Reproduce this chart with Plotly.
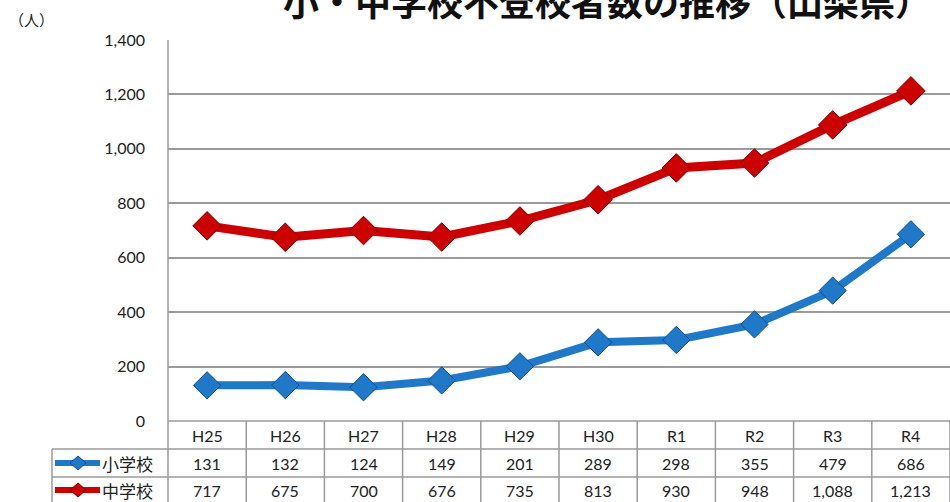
import plotly.graph_objects as go

categories = ["H25", "H26", "H27", "H28", "H29", "H30", "R1", "R2", "R3", "R4"]
elementary = [131, 132, 124, 149, 201, 289, 298, 355, 479, 686]
junior = [717, 675, 700, 676, 735, 813, 930, 948, 1088, 1213]
series_names = ["小学校", "中学校"]
y_ticks = [0, 200, 400, 600, 800, 1000, 1200, 1400]

W, H = 950, 502
BLUE = "#1f78c8"
BLUE_EDGE = "#0d4f8f"
RED = "#cc0000"
RED_EDGE = "#800000"
GRID = "#9a9a9a"
FONT = "Lato, Noto Sans CJK JP"
JP = "Noto Sans CJK JP"

# layout geometry (pixels)
px_left, px_right = 168, 950
px_top, px_zero = 40, 421
row_lines = [421, 449, 477]
label_left = 52

def xp(px):
    return px / W

def yp(py):
    return (H - py) / H

xdom = [xp(px_left), xp(px_right)]
ydom = [yp(px_zero), yp(px_top)]

fig = go.Figure()
idx = list(range(len(categories)))
fig.add_trace(go.Scatter(
    x=idx, y=elementary, mode="lines+markers", name=series_names[0],
    line=dict(color=BLUE, width=8),
    marker=dict(symbol="diamond", size=21, color=BLUE, line=dict(color=BLUE_EDGE, width=1)),
    cliponaxis=False, showlegend=False))
fig.add_trace(go.Scatter(
    x=idx, y=junior, mode="lines+markers", name=series_names[1],
    line=dict(color=RED, width=9),
    marker=dict(symbol="diamond", size=22, color=RED, line=dict(color=RED_EDGE, width=1)),
    cliponaxis=False, showlegend=False))

shapes = []
ncol = len(categories)
colw = (px_right - px_left) / ncol
for k in range(ncol + 1):
    x = px_left + k * colw
    top = px_top if k == 0 else row_lines[0]
    shapes.append(dict(type="line", xref="paper", yref="paper",
                       x0=xp(x), x1=xp(x), y0=yp(top), y1=yp(H + 5),
                       line=dict(color=GRID, width=1.5)))
shapes.append(dict(type="line", xref="paper", yref="paper",
                   x0=xp(label_left), x1=xp(label_left), y0=yp(row_lines[1]), y1=yp(H + 5),
                   line=dict(color=GRID, width=1.5)))
for r, py in enumerate(row_lines):
    x0 = px_left if r == 0 else label_left
    shapes.append(dict(type="line", xref="paper", yref="paper",
                       x0=xp(x0), x1=xp(px_right + 5), y0=yp(py), y1=yp(py),
                       line=dict(color=GRID, width=1.5)))

annotations = []
row_centers = [(row_lines[0] + row_lines[1]) / 2, (row_lines[1] + row_lines[2]) / 2, row_lines[2] + 13]
cell_font = dict(family=FONT, size=16, color="#222")
for i, c in enumerate(categories):
    xc = xp(px_left + (i + 0.5) * colw)
    for r, txt in enumerate([c, f"{elementary[i]:,}", f"{junior[i]:,}"]):
        annotations.append(dict(x=xc, y=yp(row_centers[r]), xref="paper", yref="paper", text=txt,
                                xanchor="center", yanchor="middle",
                                showarrow=False, font=cell_font))

# legend keys in table
for r, (name, col, edge) in enumerate([(series_names[0], BLUE, BLUE_EDGE), (series_names[1], RED, RED_EDGE)]):
    yc = yp(row_centers[r + 1])
    shapes.append(dict(type="line", xref="paper", yref="paper",
                       x0=xp(55), x1=xp(100), y0=yc, y1=yc,
                       line=dict(color=col, width=6)))
    shapes.append(dict(type="path", xref="paper", yref="paper",
                       path=f"M {xp(70)} {yc} L {xp(78)} {yc + 7/H} L {xp(86)} {yc} L {xp(78)} {yc - 7/H} Z",
                       fillcolor=col, line=dict(color=edge, width=1)))
    annotations.append(dict(x=xp(100), y=yc, xref="paper", yref="paper", text=name,
                            xanchor="left", yanchor="middle", showarrow=False,
                            font=dict(family=JP, size=17, color="#222")))

# title and unit
annotations.append(dict(x=xp(607), y=yp(28), xref="paper", yref="paper",
                        text="<b>小・中学校不登校者数の推移（山梨県）</b>",
                        showarrow=False, xanchor="center", yanchor="bottom",
                        font=dict(family=JP, size=36, color="#111")))
annotations.append(dict(x=xp(31), y=yp(20), xref="paper", yref="paper", text="（人）",
                        xanchor="center", yanchor="middle", showarrow=False,
                        font=dict(family=JP, size=15, color="#222")))

fig.update_layout(
    template="none",
    width=W, height=H,
    margin=dict(l=0, r=0, t=0, b=0, pad=0, autoexpand=False),
    paper_bgcolor="white", plot_bgcolor="white",
    shapes=shapes, annotations=annotations,
    xaxis=dict(domain=xdom, range=[-0.5, ncol - 0.5], showticklabels=False,
               showgrid=False, zeroline=False, showline=False, ticks="",
               automargin=False, fixedrange=True),
    yaxis=dict(domain=ydom, range=[0, 1400], tickvals=y_ticks,
               ticktext=[f"{v:,}" for v in y_ticks], showgrid=True,
               gridcolor=GRID, gridwidth=1.5, zeroline=False, showline=False,
               ticks="", ticklabelstandoff=22, automargin=False, fixedrange=True,
               tickfont=dict(family=FONT, size=16, color="#222")),
)

fig.write_html("out.html")
